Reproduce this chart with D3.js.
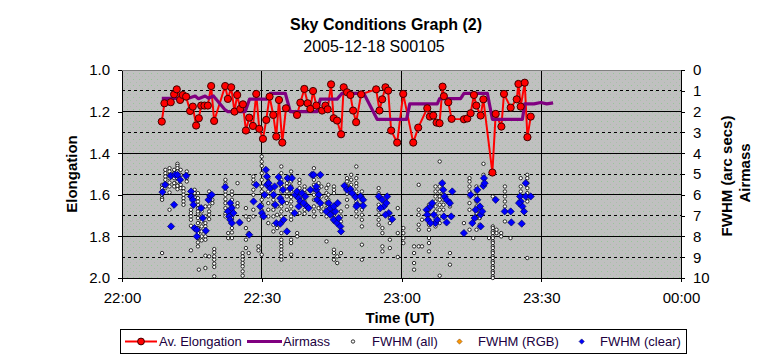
<!DOCTYPE html>
<html><head><meta charset="utf-8">
<script src="https://cdn.jsdelivr.net/npm/d3@7"></script>
<style>body{margin:0;background:#fff}svg{display:block;font-family:"Liberation Sans",Arial,sans-serif}</style>
</head><body><svg id="c" width="765" height="359"></svg>
<script>
// ---------------- DATA (times = minutes after 22:00 UT) ----------------
const titleText = "Sky Conditions Graph (2)";
const subtitleText = "2005-12-18 S00105";
const xTickLabels = ["22:00","22:30","23:00","23:30","00:00"];
const xTickMinutes = [0,30,60,90,120];
const leftTicks = [1.0,1.2,1.4,1.6,1.8,2.0];
const rightTicks = [0,1,2,3,4,5,6,7,8,9,10];
const seriesNames = ["Av. Elongation","Airmass","FWHM (all)","FWHM (RGB)","FWHM (clear)"];

const elongTime = [8.54,9.10,10.47,11.18,11.76,12.47,13.05,13.76,14.62,15.20,15.91,16.49,16.99,17.70,18.43,19.14,19.78,22.15,22.73,23.44,24.15,24.73,25.38,25.96,26.60,27.31,28.11,28.82,29.46,30.26,30.97,31.68,32.47,33.12,33.70,34.41,35.20,37.57,38.28,39.14,39.85,40.43,41.01,41.72,42.95,43.66,44.15,44.88,45.44,46.17,47.03,47.59,48.32,49.03,49.61,50.26,51.33,54.56,55.27,55.85,56.56,57.14,57.78,59.07,60.37,62.52,63.59,65.53,66.09,66.82,67.53,68.17,68.82,69.10,70.04,70.75,73.40,74.13,74.84,75.55,76.06,76.99,77.57,79.51,80.22,81.44,82.00,83.44,84.73,85.10,85.59,86.45,87.03,87.74];
const elongValue = [1.248,1.16,1.155,1.117,1.093,1.144,1.12,1.128,1.197,1.176,1.267,1.232,1.171,1.171,1.171,1.077,1.245,1.077,1.139,1.083,1.2,1.12,1.187,1.165,1.291,1.229,1.269,1.115,1.283,1.331,1.24,1.128,1.216,1.32,1.144,1.349,1.184,1.216,1.157,1.091,1.16,1.187,1.101,1.171,1.195,1.171,1.189,1.069,1.232,1.243,1.309,1.083,1.107,1.12,1.195,1.251,1.117,1.093,1.195,1.141,1.083,1.099,1.291,1.349,1.115,1.349,1.277,1.184,1.224,1.219,1.253,1.256,1.08,1.126,1.155,1.235,1.237,1.233,1.208,1.12,1.171,1.219,1.141,1.493,1.211,1.272,1.115,1.181,1.141,1.067,1.176,1.061,1.323,1.224];

const airmassTime = [8.54,14.26,15.70,16.41,17.85,18.56,19.63,22.15,22.73,26.45,27.38,31.12,31.83,35.05,36.13,41.87,42.58,46.17,47.24,51.89,54.77,61.08,61.78,67.68,68.17,72.69,73.40,78.43,79.51,85.96,86.45,88.45,89.89,91.18,92.54];
const airmassValue = [1.36,1.36,1.25,1.38,1.25,1.36,1.25,1.92,2.0,2.0,1.40,1.40,1.12,1.12,2.0,2.0,1.40,1.40,1.12,1.12,2.37,2.37,1.63,1.63,1.38,1.38,1.12,1.12,2.37,2.37,1.63,1.63,1.56,1.63,1.58];

// FWHM (all): [time, [values at that time]]
const fwhmAll = [
 [8.6,[5.52,5.68,5.84,6.0,6.16,6.24,8.8]],
 [9.3,[4.8,4.96,5.12,5.28,5.47,5.68]],
 [10.2,[4.72,4.88,5.04,5.2,5.41,5.6,5.89,6.72]],
 [11.2,[4.8,4.96,5.2,5.44,5.6]],
 [11.9,[4.51,4.61,4.72,4.88,5.04,5.2,5.36,5.57,5.73]],
 [12.6,[4.8,5.04,5.28,5.52,5.68]],
 [13.2,[5.68,5.84,6.0,6.16,6.32,6.48]],
 [13.9,[4.88,5.04,5.2,5.36]],
 [14.8,[6.72,6.88,7.04,7.2,7.49,8.67]],
 [15.6,[5.76,5.92,6.11]],
 [16.3,[8.48,8.29,8.08,7.84,7.6,7.36,7.12,6.91,6.8,6.64,6.48,6.32,6.16,5.92]],
 [16.5,[9.6]],
 [17.1,[6.8,7.04,7.28,7.52,7.76,8.0,8.19]],
 [17.9,[6.56,7.04,7.36,7.52,7.76,8.0,8.16,8.93,9.52]],
 [18.7,[5.84,6.08,6.24,6.56,6.8,6.96,7.17,8.96]],
 [19.4,[6.24,6.4]],
 [19.8,[8.61,8.77,8.96,9.12,9.31,9.47,9.92]],
 [22.2,[5.28,5.47,5.68,5.84,6.0,6.21,6.4,6.64,6.91,7.04]],
 [22.8,[8.08,7.84]],
 [23.6,[5.84,6.0,6.24,6.56,6.88,7.12,7.36,7.6,7.81,8.08]],
 [24.8,[5.44,6.4,6.56]],
 [25.4,[7.36]],
 [25.9,[8.8,8.96,9.12,9.28,9.44,9.68,9.89]],
 [26.6,[6.64,7.04,7.6,8.16,8.56]],
 [27.2,[7.2,7.84,8.8]],
 [28.2,[5.12,5.28,5.47,5.76,6.0,6.72,7.04]],
 [29.3,[8.48,8.67]],
 [30.0,[4.16,4.4,4.61,4.96,5.28,5.6,5.84,6.24,6.48,6.75,7.04,8.88]],
 [31.4,[5.2,5.36,5.6,5.84,6.08,6.4,6.72,7.04,7.36]],
 [32.5,[5.84,6.08,6.24,6.48,6.72,7.04,7.44,7.76]],
 [33.3,[6.56,6.96,7.6]],
 [34.2,[4.64,4.96,5.28,5.6,5.84,6.24,6.56,6.8,7.04,7.36,7.84,8.16,8.32,8.48,8.64,8.8,8.96,9.12]],
 [35.4,[5.2,5.44,5.6,5.84,6.08,6.4,6.72]],
 [36.3,[4.88,5.12,5.36,5.6,5.84,6.11,6.32,6.56,6.8,7.04,7.2,8.16,8.32,8.88]],
 [37.6,[7.84,8.0]],
 [38.1,[5.28,5.44,5.68,5.92,6.21,6.56,6.88]],
 [39.2,[5.6,5.76,5.92,6.11,6.32,6.48,6.72,6.91]],
 [41.2,[4.72,5.04,5.28,5.52,5.76,6.0,6.24,6.56,6.8,7.04]],
 [42.2,[5.12,5.44,5.68,5.92,6.24,6.64]],
 [42.8,[5.6,6.08,6.56,6.8]],
 [43.9,[5.68,5.92,6.16,6.4,6.64,7.04,8.24]],
 [44.3,[5.52,6.0,6.24,6.56,6.88]],
 [45.5,[5.6,5.76,5.92,6.56,6.96,7.28,8.64,8.8,9.12]],
 [46.2,[9.28,8.96]],
 [47.0,[6.8,7.04,7.28,8.8]],
 [48.3,[5.2,5.36,5.57,5.76,5.95,6.24,6.56]],
 [49.2,[5.04,5.28,5.52,5.76]],
 [50.3,[4.64,5.2,5.44,5.6,5.84,6.08,6.32,6.56,6.8,7.04]],
 [51.5,[5.84,6.08,6.24,6.48,6.72,6.96,7.2,7.52,8.4,9.12]],
 [55.1,[5.68,5.92,6.16,6.48,6.72,6.96,7.2,7.44]],
 [55.9,[7.6,7.84,8.48,8.72]],
 [57.5,[6.88,7.12,7.36,8.16,8.56]],
 [59.2,[6.64,7.84,8.99]],
 [60.4,[7.6,7.84,8.08,8.32]],
 [62.7,[8.48,8.8,9.28,9.6]],
 [63.7,[5.52,6.72,6.96,7.44,7.68,8.48]],
 [64.4,[7.2,8.48]],
 [65.9,[6.48,6.72,6.96,7.2,7.44,7.68,8.08,8.32,8.72]],
 [67.3,[5.6,5.84,6.08,6.32,6.56,6.8,7.04,7.28,7.52]],
 [68.2,[4.4,5.6,5.84,6.08,6.24,6.48,6.72,7.04,7.36,9.89]],
 [69.0,[5.76,6.0,6.24,6.48,6.72,7.04]],
 [70.4,[6.32,6.56,8.8,9.36]],
 [73.4,[7.36]],
 [74.6,[5.2,5.36,5.6,5.84,6.08,6.4,6.72,7.68]],
 [75.4,[8.08]],
 [76.1,[5.6,5.84,6.08,6.32,6.56,6.88,7.12,7.68]],
 [76.8,[6.88,7.12,7.44]],
 [77.6,[4.51,5.04,5.2]],
 [78.8,[8.08]],
 [79.6,[6.08,7.52,7.6,7.76,7.84,8.0,8.08,8.24,8.32,8.48,8.56,8.72,8.8,8.96,9.04,9.2,9.28,9.44,9.52,9.68,9.76,9.92,10.0]],
 [80.4,[7.68,7.84]],
 [81.4,[7.84,8.0]],
 [82.2,[5.6,5.84,6.08,6.32,6.56,6.8,7.28]],
 [83.4,[8.08]],
 [85.6,[5.2,5.6,5.84]],
 [87.0,[5.04,5.2,5.44,5.68,5.92,6.16,6.32,9.04]]
];

const fwhmRGBTime = [];
const fwhmRGBValue = [];

const fwhmClearTime = [8.68,9.25,10.47,11.18,10.54,11.4,11.9,12.47,13.76,14.84,14.84,15.2,15.34,15.56,16.06,18.0,16.99,17.35,16.06,18.57,18.93,19.28,22.15,23.23,22.73,23.01,23.23,23.59,23.59,23.94,25.23,27.31,28.24,28.82,29.68,30.04,30.4,30.61,30.9,31.11,31.11,31.47,31.83,32.55,32.76,33.62,32.9,33.12,33.98,33.98,33.98,34.34,34.7,34.55,35.41,35.56,36.49,36.13,37.2,37.56,37.92,38.28,38.64,39.0,39.36,39.71,40.07,37.06,37.92,40.43,40.79,41.15,41.72,42.22,42.58,41.72,41.86,42.58,43.87,44.37,44.73,45.09,45.81,45.45,46.16,46.52,46.88,47.02,46.31,45.45,44.73,47.74,48.31,49.03,49.39,50.11,50.47,51.18,51.76,51.76,50.32,55.12,55.84,56.2,56.77,56.92,57.28,57.99,55.48,56.56,65.38,65.52,65.66,66.24,66.59,66.95,67.31,67.67,66.24,68.74,68.96,69.25,69.68,70.39,70.9,70.68,69.1,69.68,73.4,74.84,75.2,75.7,75.91,76.27,76.27,76.85,76.99,76.99,77.35,77.56,77.71,77.85,80.21,82.15,83.44,83.58,85.45,85.59,85.95,86.31,85.81,86.67,86.67,87.74,85.23];
const fwhmClearValue = [5.87,5.52,5.09,6.48,7.52,5.04,5.04,5.28,5.09,5.84,6.08,6.24,6.48,7.6,7.68,7.73,6.64,7.12,8.0,6.24,6.05,6.0,5.63,6.4,6.8,7.04,7.2,7.36,6.64,6.88,7.33,7.92,6.32,5.52,6.56,6.88,7.04,6.0,4.8,5.12,5.52,5.44,5.68,6.0,5.6,5.15,6.48,7.36,7.39,5.44,6.16,6.32,7.2,5.76,7.76,5.2,5.2,5.68,6.0,5.84,6.16,6.32,5.92,6.4,6.08,6.56,6.64,6.88,6.56,5.76,5.04,5.04,5.76,6.0,5.04,5.6,6.24,6.4,6.8,6.4,6.64,6.88,6.8,7.2,7.36,7.12,7.52,7.76,6.4,6.56,6.96,5.57,5.76,5.73,5.92,6.11,6.48,6.08,6.24,6.53,6.56,6.08,6.24,6.56,6.4,6.08,6.88,7.17,6.64,6.96,6.72,6.96,7.2,6.56,6.4,6.96,7.36,7.2,7.36,5.44,5.76,6.08,6.24,6.4,5.84,7.04,7.04,7.33,7.84,6.0,7.36,7.12,6.72,5.76,6.24,6.56,6.96,7.52,6.8,5.57,5.2,5.44,6.24,6.8,6.8,7.33,6.08,6.32,6.56,6.8,7.39,5.44,6.08,6.08,6.4];

// ---------------- CHART ----------------
const svg = d3.select("#c");
const W = 765, H = 359;
const P = {l:122, r:681, t:70, b:278};
const base = Date.UTC(2005,11,18,22,0,0);
const tm = m => new Date(base + m*60000);

const x = d3.scaleUtc().domain([tm(0), tm(120)]).range([P.l, P.r]);
const yL = d3.scaleLinear().domain([1.0, 2.0]).range([P.t, P.b]);
const yR = d3.scaleLinear().domain([0, 10]).range([P.t, P.b]);

// square diamond (equal width and height)
const diamondPath = r => `M0,${-r}L${r},0L0,${r}L${-r},0Z`;

svg.append("rect").attr("width",W).attr("height",H).attr("fill","#fff");

// background pattern
const defs = svg.append("defs");
const pat = defs.append("pattern").attr("id","dots").attr("patternUnits","userSpaceOnUse")
  .attr("width",6).attr("height",6);
pat.append("rect").attr("width",6).attr("height",6).attr("fill","#c0c0c0");
pat.append("rect").attr("x",1).attr("y",1).attr("width",1).attr("height",1).attr("fill","#96c896");
pat.append("rect").attr("x",4).attr("y",4).attr("width",1).attr("height",1).attr("fill","#a8c0a8");
svg.append("rect").attr("x",P.l).attr("y",P.t).attr("width",P.r-P.l).attr("height",P.b-P.t).attr("fill","url(#dots)");

// grid
const g = svg.append("g");
rightTicks.filter(v => v>0 && v<10).forEach(v => {
  g.append("line").attr("x1",P.l).attr("x2",P.r).attr("y1",yR(v)).attr("y2",yR(v))
   .attr("stroke","#000").attr("stroke-width",1)
   .attr("stroke-dasharray", v%2===0 ? null : "3,3")
   .attr("shape-rendering","crispEdges");
});
xTickMinutes.filter(m => m>0 && m<120).forEach(m => {
  g.append("line").attr("x1",x(tm(m))).attr("x2",x(tm(m))).attr("y1",P.t).attr("y2",P.b)
   .attr("stroke","#000").attr("shape-rendering","crispEdges");
});
g.append("line").attr("x1",P.l).attr("x2",P.r).attr("y1",P.t).attr("y2",P.t)
  .attr("stroke","#808080").attr("shape-rendering","crispEdges");

// axes
const fontTick = "15px";
const axL = svg.append("g").attr("transform",`translate(${P.l},0)`)
  .call(d3.axisLeft(yL).tickValues(leftTicks).tickFormat(d3.format(".1f")).tickSize(4).tickSizeOuter(0).tickPadding(8));
const axR = svg.append("g").attr("transform",`translate(${P.r},0)`)
  .call(d3.axisRight(yR).tickValues(rightTicks).tickFormat(d3.format("d")).tickSize(4).tickSizeOuter(0).tickPadding(8));
const axB = svg.append("g").attr("transform",`translate(0,${P.b})`)
  .call(d3.axisBottom(x).tickValues(xTickMinutes.map(tm)).tickFormat((d,i)=>xTickLabels[i]).tickSize(4).tickSizeOuter(0).tickPadding(10));
[axL,axR,axB].forEach(a => {
  a.selectAll("text").attr("font-size",fontTick).attr("fill","#000").attr("font-family","Liberation Sans, Arial, sans-serif");
  a.selectAll("line,path").attr("stroke","#000").attr("shape-rendering","crispEdges");
});

// series: Av. Elongation
const lineE = d3.line().x((d,i)=>x(tm(elongTime[i]))).y(d=>yL(d));
svg.append("path").attr("d",lineE(elongValue)).attr("fill","none").attr("stroke","#ff0000").attr("stroke-width",2);
// Airmass
const lineA = d3.line().x((d,i)=>x(tm(airmassTime[i]))).y(d=>yR(d));
svg.append("path").attr("d",lineA(airmassValue)).attr("fill","none").attr("stroke","#800080").attr("stroke-width",3.2).attr("stroke-linejoin","round");
svg.append("g").selectAll("circle").data(elongValue).join("circle")
  .attr("cx",(d,i)=>x(tm(elongTime[i]))).attr("cy",d=>yL(d)).attr("r",3.6)
  .attr("fill","#ff0000").attr("stroke","#400000").attr("stroke-width",1);

// FWHM (all)
const allPts = fwhmAll.flatMap(([t,vals]) => vals.map(v => [t,v]));
svg.append("g").selectAll("circle").data(allPts).join("circle")
  .attr("cx",d=>x(tm(d[0]))).attr("cy",d=>yR(d[1])).attr("r",1.7)
  .attr("fill","#fff").attr("stroke","#000").attr("stroke-width",0.8);

// FWHM (RGB)
svg.append("g").selectAll("path").data(fwhmRGBValue).join("path")
  .attr("transform",(d,i)=>`translate(${x(tm(fwhmRGBTime[i]))},${yR(d)})`)
  .attr("d",diamondPath(3.6)).attr("fill","#ff9900").attr("stroke","#804000");

// FWHM (clear)
svg.append("g").selectAll("path").data(fwhmClearValue).join("path")
  .attr("transform",(d,i)=>`translate(${x(tm(fwhmClearTime[i]))},${yR(d)})`)
  .attr("d",diamondPath(3.6)).attr("fill","#0000ff").attr("stroke","#000060").attr("stroke-width",0.7);

// titles
svg.append("text").attr("x",386).attr("y",30).attr("text-anchor","middle")
  .attr("font-size","16px").attr("font-weight","bold").text(titleText);
svg.append("text").attr("x",374).attr("y",52).attr("text-anchor","middle")
  .attr("font-size","16px").text(subtitleText);
svg.append("text").attr("x",400).attr("y",323).attr("text-anchor","middle")
  .attr("font-size","15px").attr("font-weight","bold").text("Time (UT)");
svg.append("text").attr("transform","translate(77,174) rotate(-90)").attr("text-anchor","middle")
  .attr("font-size","15px").attr("font-weight","bold").text("Elongation");
svg.append("text").attr("transform","translate(732,176) rotate(-90)").attr("text-anchor","middle")
  .attr("font-size","15px").attr("font-weight","bold").text("FWHM (arc secs)");
svg.append("text").attr("transform","translate(750,173) rotate(-90)").attr("text-anchor","middle")
  .attr("font-size","15px").attr("font-weight","bold").text("Airmass");

// legend
const lg = svg.append("g");
lg.append("rect").attr("x",120.5).attr("y",329.5).attr("width",566).attr("height",24)
  .attr("fill","#fff").attr("stroke","#000");
const ly = 341.5;
lg.append("line").attr("x1",125).attr("x2",157).attr("y1",ly).attr("y2",ly).attr("stroke","#ff0000").attr("stroke-width",2);
lg.append("circle").attr("cx",141).attr("cy",ly).attr("r",3.4).attr("fill","#ff0000").attr("stroke","#400000");
lg.append("line").attr("x1",247).attr("x2",282).attr("y1",ly).attr("y2",ly).attr("stroke","#800080").attr("stroke-width",3);
lg.append("circle").attr("cx",353).attr("cy",ly).attr("r",1.7).attr("fill","#fff").attr("stroke","#000").attr("stroke-width",0.8);
lg.append("path").attr("transform",`translate(459.5,${ly})`).attr("d",diamondPath(2.6)).attr("fill","#ff9900").attr("stroke","#804000").attr("stroke-width",0.6);
lg.append("path").attr("transform",`translate(581.7,${ly})`).attr("d",diamondPath(2.6)).attr("fill","#0000ff").attr("stroke","#000060").attr("stroke-width",0.6);
const legX = [159,283,372,478,600];
seriesNames.forEach((n,i) => {
  lg.append("text").attr("x",legX[i]).attr("y",ly+4.5).attr("font-size","13px").attr("fill","#200040").text(n);
});
</script></body></html>
